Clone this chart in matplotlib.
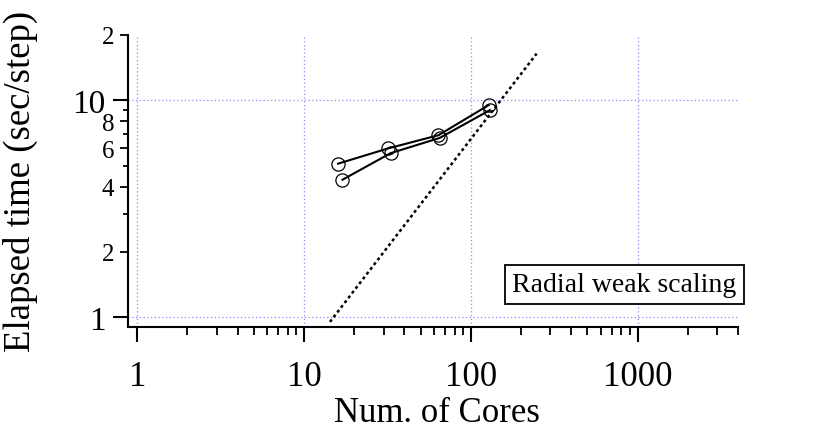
import matplotlib
matplotlib.use("Agg")
import matplotlib.pyplot as plt
from matplotlib.ticker import FixedLocator, NullLocator, FixedFormatter

# ---- data ----
cores_a = [16, 32, 64, 128]
time_a = [5.1, 6.0, 6.9, 9.5]
cores_b = [17, 33, 65, 130]
time_b = [4.3, 5.7, 6.7, 9.0]
ideal_x = [14.3, 248]
ideal_y = [0.95, 16.4]

x_major = [1, 10, 100, 1000]
x_major_labels = ["1", "10", "100", "1000"]
x_minor = [m * d for d in [1, 10, 100, 1000] for m in range(2, 10)]
x_minor = [v for v in x_minor if v <= 4000]
y_major = [1, 10]
y_major_labels = ["1", "10"]
y_minor = [2, 4, 6, 8, 20]
y_minor_labels = ["2", "4", "6", "8", "2"]
y_small = [3, 5, 7, 9]

W, H = 820, 431
fig = plt.figure(figsize=(W / 100, H / 100), dpi=100)
serif = "Liberation Serif"
plt.rcParams["font.family"] = [serif, "DejaVu Serif"]

L, R, T, B = 128, 738, 36, 328
ax = fig.add_axes([L / W, 1 - B / H, (R - L) / W, (B - T) / H])
ax.set_xscale("log")
ax.set_yscale("log")
ax.set_xlim(0.88, 4000)
ax.set_ylim(0.9, 20)

for s in ["top", "right"]:
    ax.spines[s].set_visible(False)
for s in ["left", "bottom"]:
    ax.spines[s].set_linewidth(1.5)

grid_color = "#8c8cff"
for gx in x_major:
    ax.axvline(gx, color=grid_color, ls=(0, (1, 2)), lw=0.9, zorder=0)
for gy in y_major:
    ax.axhline(gy, color=grid_color, ls=(0, (1, 2)), lw=0.9, zorder=0)

# ideal scaling line
ax.plot(ideal_x, ideal_y, color="black", lw=1.8, ls=(0, (1.2, 1.2)))

# data
for xs, ys in [(cores_a, time_a), (cores_b, time_b)]:
    ax.plot(xs, ys, color="black", lw=1.5, marker="o", ms=9.5,
            mfc="none", mec="black", mew=0.9)

# x ticks
ax.xaxis.set_major_locator(FixedLocator(x_major))
ax.xaxis.set_major_formatter(FixedFormatter(x_major_labels))
ax.xaxis.set_minor_locator(FixedLocator(x_minor))
ax.xaxis.set_minor_formatter(FixedFormatter([""] * len(x_minor)))
ax.tick_params(axis="x", which="major", direction="out", length=11, width=1.5,
               labelsize=25, pad=13)
ax.tick_params(axis="x", which="minor", direction="out", length=6, width=1.3)

# y ticks
ax.yaxis.set_major_locator(FixedLocator(y_major))
ax.yaxis.set_major_formatter(FixedFormatter(y_major_labels))
ax.yaxis.set_minor_locator(FixedLocator(y_minor))
ax.yaxis.set_minor_formatter(FixedFormatter(y_minor_labels))
ax.tick_params(axis="y", which="major", direction="out", length=11, width=1.5,
               labelsize=24, pad=5)
ax.tick_params(axis="y", which="minor", direction="out", length=6, width=1.3,
               labelsize=18, pad=4)

sec = ax.secondary_yaxis("left")
sec.set_yscale("log")
sec.yaxis.set_major_locator(FixedLocator(y_small))
sec.yaxis.set_major_formatter(FixedFormatter([""] * len(y_small)))
sec.yaxis.set_minor_locator(NullLocator())
sec.tick_params(axis="y", which="major", direction="out", length=3.6, width=1.3)
sec.spines["left"].set_visible(False)

for lab in ax.get_xticklabels() + ax.get_yticklabels() + ax.get_yticklabels(minor=True):
    lab.set_family(serif)

# axis labels
fig.text(437 / W, 1 - 422 / H, "Num. of Cores", ha="center", va="baseline",
         fontsize=25, family=serif)
fig.text(20 / W, 1 - 181 / H, "Elapsed time (sec/step)", ha="center", va="center",
         rotation=90, fontsize=26.5, family=serif)

# annotation box
ax.text((624.5 - L) / (R - L), (B - 285.5) / (B - T), "Radial weak scaling",
        transform=ax.transAxes, ha="center", va="center", fontsize=20,
        family=serif,
        bbox=dict(boxstyle="square,pad=0.25", fc="white", ec="black", lw=1.3))

fig.savefig("out.png", dpi=100)
